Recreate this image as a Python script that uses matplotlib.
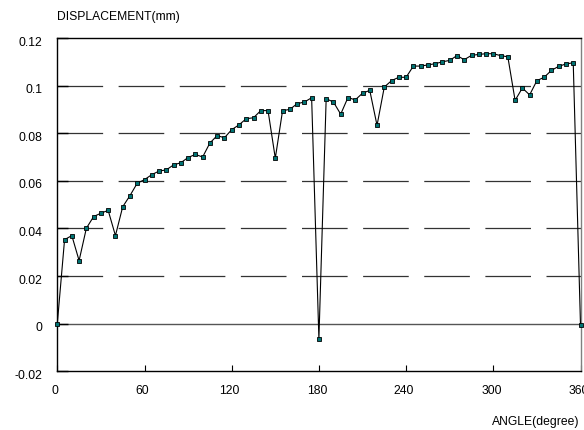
import matplotlib
matplotlib.use("Agg")
import matplotlib.pyplot as plt
import matplotlib.transforms as mtransforms
import numpy as np

plt.rcParams['font.family'] = ['Liberation Sans', 'DejaVu Sans']

angles = list(range(0, 361, 5))
displacement = [
    0.0, 0.0353, 0.0370, 0.0265, 0.0401, 0.0450, 0.0464, 0.0476, 0.0370, 0.0491,
    0.0538, 0.0590, 0.0605, 0.0626, 0.0641, 0.0646, 0.0667, 0.0676, 0.0698, 0.0711,
    0.0700, 0.0759, 0.0790, 0.0781, 0.0815, 0.0835, 0.0861, 0.0865, 0.0895, 0.0895,
    0.0695, 0.0895, 0.0900, 0.0924, 0.0931, 0.0949, -0.0064, 0.0945, 0.0931, 0.0880,
    0.0950, 0.0940, 0.0968, 0.0980, 0.0833, 0.0994, 0.1021, 0.1035, 0.1035, 0.1082,
    0.1082, 0.1087, 0.1092, 0.1100, 0.1106, 0.1126, 0.1109, 0.1127, 0.1131, 0.1134,
    0.1134, 0.1126, 0.1121, 0.0938, 0.0990, 0.0961, 0.1021, 0.1035, 0.1064, 0.1081,
    0.1091, 0.1096, -0.0007,
]
x_ticks = [0, 60, 120, 180, 240, 300, 360]
y_ticks = [-0.02, 0, 0.02, 0.04, 0.06, 0.08, 0.1, 0.12]
y_tick_labels = ['-0.02', '0', '0.02', '0.04', '0.06', '0.08', '0.1', '0.12']
dashed_levels = [0.02, 0.04, 0.06, 0.08, 0.1]

W, H = 584, 430
fig = plt.figure(figsize=(W / 100, H / 100), dpi=100)
ax = fig.add_axes([57.3 / W, 1 - 371.3 / H, (580.5 - 57.3) / W, (371.3 - 38) / H])

ax.set_xlim(0, 360)
ax.set_ylim(-0.02, 0.12)

for lvl in dashed_levels:
    ax.axhline(lvl, color='#333333', lw=0.9, linestyle=(0, (36.5, 12.4)), zorder=1)
ax.axhline(0, color='#555555', lw=1.0, zorder=1)

ax.plot(angles, displacement, color='black', lw=0.8, marker='s', markersize=3.1,
        markerfacecolor='#007373', markeredgecolor='black', markeredgewidth=0.6,
        zorder=3, clip_on=False)

FS = 8.7
ax.set_xticks(x_ticks)
ax.set_yticks(y_ticks)
ax.set_yticklabels(y_tick_labels)
ax.tick_params(axis='y', direction='in', length=8, width=1, pad=10.5, labelsize=FS, color='black')
ax.tick_params(axis='x', direction='in', length=4.5, width=0.8, pad=10, labelsize=FS, color='black')

for lab in ax.get_yticklabels():
    lab.set_transform(lab.get_transform() + mtransforms.ScaledTranslation(0, -3 / 100, fig.dpi_scale_trans))
for lab in ax.get_xticklabels():
    lab.set_transform(lab.get_transform() + mtransforms.ScaledTranslation(-2 / 100, 0, fig.dpi_scale_trans))

for s in ['left', 'bottom', 'top']:
    ax.spines[s].set_color('black')
    ax.spines[s].set_linewidth(1.0)
ax.spines['right'].set_color('#808080')
ax.spines['right'].set_linewidth(1.0)

fig.text(57.5 / W, 1 - 17 / H, 'DISPLACEMENT(mm)', fontsize=FS, ha='left', va='center')
fig.text(579.5 / W, 1 - 421.5 / H, 'ANGLE(degree)', fontsize=FS, ha='right', va='center')

fig.savefig('out.png', dpi=100)
